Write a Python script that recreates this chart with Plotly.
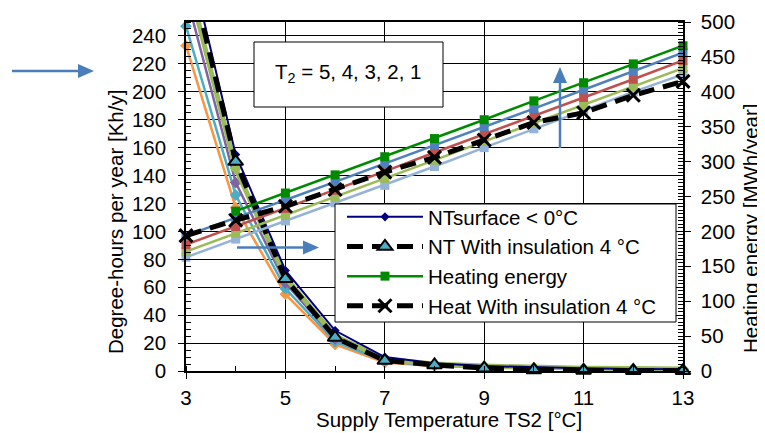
import plotly.graph_objects as go

# ---- data ----
x_temp = [3, 4, 5, 6, 7, 8, 9, 10, 11, 12, 13]
x_ticks = [3, 5, 7, 9, 11, 13]

# Degree-hours per year [Kh/y] (left axis)
dh_nt_surface = [305, 155, 72, 29, 10, 5.5, 3.5, 2.5, 2.0, 1.5, 1.2]
dh_nt_insul = [298, 150, 66, 24, 7.5, 4.3, 2.0, 0.8, 0.3, 0.2, 0.1]
dh_olive = [285, 145, 67, 25, 8.5, 5.0, 3.5, 2.5, 2.0, 1.8, 1.5]
dh_purple = [270, 135, 63, 23, 8.0, 4.5, 3.0, 2.2, 1.8, 1.5, 1.2]
dh_teal = [247, 126, 59, 21, 7.0, 4.0, 2.8, 2.0, 1.6, 1.3, 1.1]
dh_orange = [233, 117, 55, 19, 6.0, 3.5, 2.5, 1.8, 1.4, 1.1, 0.9]

# Heating energy [MWh/year] (right axis)
he_green = [None, 229, 255, 281, 307, 333, 360, 387, 413, 440, 466]
he_blue = [194, 219, 245, 271, 297, 324, 350, 376, 403, 429, 456]
he_red = [181, 207, 233, 259, 286, 313, 339, 366, 392, 418, 445]
he_lgreen = [171, 197, 223, 249, 276, 302, 329, 355, 381, 407, 434]
he_lblue = [163, 189, 215, 241, 266, 293, 320, 347, 373, 400, 425]
he_insul = [194, 216, 236, 260, 285, 306, 331, 356, 370, 395, 415]

FONT = "Liberation Sans, Arial, sans-serif"
FS = 20.5

# the page has an 8px body margin: figure is drawn at (8, 8) in the window
OFF = 8
W, H = 765 - OFF, 433 - OFF
ML, MR, MT, MB = 186 - OFF, 82, 22 - OFF, 62
PW, PH = W - ML - MR, H - MT - MB


def px(xw):
    """window pixel x -> paper x"""
    return (xw - OFF - ML) / PW


def py(yw):
    """window pixel y -> paper y"""
    return (H - MB - (yw - OFF)) / PH


fig = go.Figure()

# heating lines (secondary axis)
for vals, col in [(he_lblue, "#95B3D7"), (he_lgreen, "#9BBB59"), (he_red, "#C0504D"),
                  (he_blue, "#4F81BD")]:
    fig.add_trace(go.Scatter(x=x_temp, y=vals, yaxis="y2", mode="lines+markers",
                             line=dict(color=col, width=2.5), cliponaxis=False,
                             marker=dict(symbol="square", size=9, color=col),
                             showlegend=False, hoverinfo="skip"))

# degree-hour curves (primary axis)
for vals, col, w in [(dh_orange, "#F79646", 2.5), (dh_teal, "#4BACC6", 2.5),
                     (dh_purple, "#8064A2", 2.5), (dh_olive, "#9BBB59", 5)]:
    fig.add_trace(go.Scatter(x=x_temp, y=vals, mode="lines+markers",
                             line=dict(color=col, width=w), cliponaxis=False,
                             marker=dict(symbol="diamond", size=9, color=col),
                             showlegend=False, hoverinfo="skip"))

fig.add_trace(go.Scatter(x=x_temp, y=dh_nt_surface, mode="lines+markers",
                         name="NTsurface < 0°C", cliponaxis=False,
                         line=dict(color="#000080", width=2),
                         marker=dict(symbol="diamond", size=7, color="#000080")))
fig.add_trace(go.Scatter(x=x_temp, y=dh_nt_insul, mode="lines+markers",
                         name="NT With insulation 4 °C", cliponaxis=False,
                         line=dict(color="black", width=5, dash="16px,9px"),
                         marker=dict(symbol="triangle-up", size=13, color="#4BACC6",
                                     line=dict(color="black", width=2))))
fig.add_trace(go.Scatter(x=x_temp, y=he_green, yaxis="y2", mode="lines+markers",
                         name="Heating energy", cliponaxis=False,
                         line=dict(color="#008A00", width=2.5),
                         marker=dict(symbol="square", size=9, color="#008A00")))
fig.add_trace(go.Scatter(x=x_temp, y=he_insul, yaxis="y2", mode="lines+markers",
                         name="Heat With insulation 4 °C", cliponaxis=False,
                         line=dict(color="black", width=5, dash="16px,9px"),
                         marker=dict(symbol="x-thin", size=13, color="black",
                                     line=dict(color="black", width=3))))

arrow_col = "#4A7EBB"


def arrow(x0, y0, x1, y1, hl=16, hw=7):
    """Arrow shapes from tail (x0,y0) to tip (x1,y1), window pixels."""
    dx, dy = x1 - x0, y1 - y0
    n = (dx * dx + dy * dy) ** 0.5
    ux, uy = dx / n, dy / n
    bx, by = x1 - ux * hl, y1 - uy * hl
    nx, ny = -uy, ux
    line = dict(type="line", xref="paper", yref="paper",
                x0=px(x0), y0=py(y0), x1=px(bx), y1=py(by),
                line=dict(color=arrow_col, width=2.5), layer="above")
    p1 = (px(x1), py(y1))
    p2 = (px(bx + nx * hw), py(by + ny * hw))
    p3 = (px(bx - nx * hw), py(by - ny * hw))
    head = dict(type="path", xref="paper", yref="paper",
                path=f"M{p1[0]},{p1[1]} L{p2[0]},{p2[1]} L{p3[0]},{p3[1]} Z",
                fillcolor=arrow_col, line=dict(color=arrow_col, width=0), layer="above")
    return [line, head]


shapes = [
    # T2 text box
    dict(type="rect", xref="paper", yref="paper", x0=px(254), x1=px(443),
         y0=py(107), y1=py(42), line=dict(color="black", width=1),
         fillcolor="white", layer="above"),
    # legend box
    dict(type="rect", xref="paper", yref="paper", x0=px(335), x1=px(676),
         y0=py(322), y1=py(204), line=dict(color="black", width=1),
         fillcolor="white", layer="above"),
]
shapes += arrow(12, 71, 94, 71)
shapes += arrow(237, 247.5, 319, 247.5)
shapes += arrow(560, 148, 560, 67)

annotations = [
    dict(xref="paper", yref="paper", x=px(273), y=py(73), xanchor="left", yanchor="middle",
         text="T<sub>2</sub> = 5, 4, 3, 2, 1", showarrow=False,
         font=dict(family=FONT, size=20.5, color="black")),
    dict(xref="paper", yref="paper", x=px(449), y=py(419), xanchor="center", yanchor="middle",
         text="Supply Temperature TS2 [°C]", showarrow=False,
         font=dict(family=FONT, size=20.5, color="black")),
    dict(xref="paper", yref="paper", x=px(115), y=py(222), xanchor="center", yanchor="middle",
         text="Degree-hours per year [Kh/y]", showarrow=False, textangle=-90,
         font=dict(family=FONT, size=20.5, color="black")),
    dict(xref="paper", yref="paper", x=px(751), y=py(228), xanchor="center", yanchor="middle",
         text="Heating energy [MWh/year]", showarrow=False, textangle=-90,
         font=dict(family=FONT, size=20.5, color="black")),
]

fig.update_layout(
    width=W, height=H,
    margin=dict(l=ML, r=MR, t=MT, b=MB, autoexpand=False),
    paper_bgcolor="white", plot_bgcolor="white",
    font=dict(family=FONT, size=FS, color="black"),
    xaxis=dict(range=[3, 13], tickvals=x_ticks, showgrid=True, gridcolor="black",
               gridwidth=1, showline=True, linecolor="black", linewidth=1.5, mirror=True,
               ticks="outside", ticklen=6, tickcolor="black", automargin=False,
               ticklabelstandoff=2,
               minor=dict(dtick=1, ticks="inside", ticklen=5, tickcolor="black", showgrid=False),
               zeroline=False),
    yaxis=dict(range=[0, 250], dtick=20, showgrid=True, gridcolor="black", gridwidth=1,
               showline=True, linecolor="black", linewidth=1.5, mirror=True,
               ticks="outside", ticklen=6, tickcolor="black", automargin=False,
               ticklabelstandoff=8,
               minor=dict(dtick=5, ticks="inside", ticklen=5, tickcolor="black", showgrid=False),
               zeroline=False),
    yaxis2=dict(range=[0, 500], dtick=50, overlaying="y", side="right", showgrid=False,
                showline=True, linecolor="black", linewidth=1.5, automargin=False,
                ticks="outside", ticklen=6, tickcolor="black", ticklabelstandoff=6,
                minor=dict(dtick=5, ticks="inside", ticklen=5, tickcolor="black"),
                zeroline=False),
    legend=dict(x=px(342), y=py(197), xanchor="left", yanchor="top",
                bgcolor="rgba(0,0,0,0)", borderwidth=0, itemwidth=76,
                font=dict(family=FONT, size=20.5)),
    annotations=annotations,
    shapes=shapes,
)

fig.write_html("out.html")
